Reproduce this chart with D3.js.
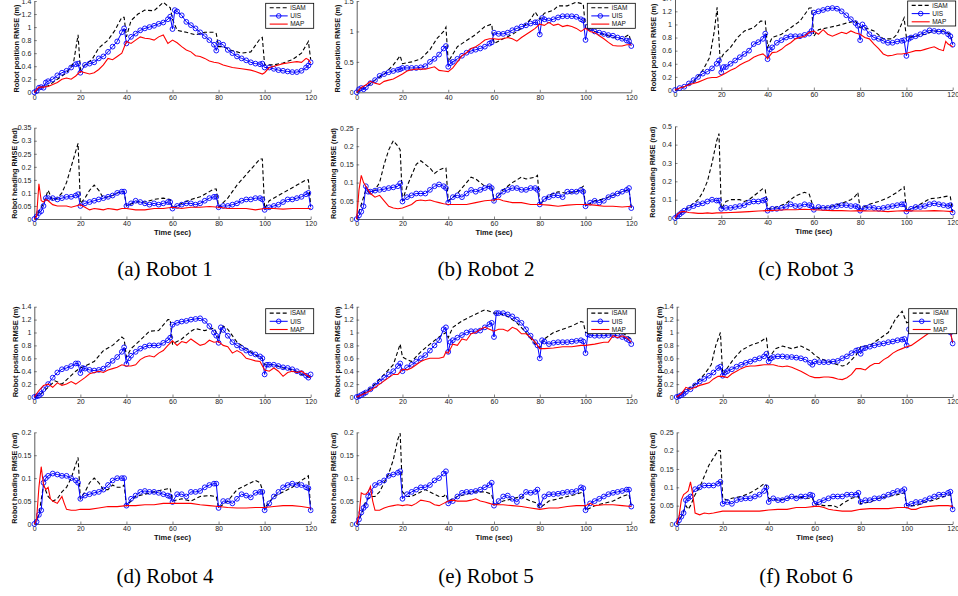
<!DOCTYPE html>
<html>
<head>
<meta charset="utf-8">
<script src="https://cdnjs.cloudflare.com/ajax/libs/d3/7.8.5/d3.min.js"></script>
<style>
  body { margin: 0; background: #fff; }
  svg { display: block; }
  .tick text { font-family: "Liberation Sans", Arial, sans-serif; font-size: 7px; fill: #222; }
</style>
</head>
<body>
<svg id="chart" width="958" height="596"></svg>
<script>
// ---- data: flat [t, value, t, value, ...] ----
var xTicks = [0, 20, 40, 60, 80, 100, 120];
var ticksPos14 = [0, 0.2, 0.4, 0.6, 0.8, 1, 1.2, 1.4];
var ticksPos15 = [0, 0.5, 1, 1.5];
var ticksHead35 = [0, 0.05, 0.1, 0.15, 0.2, 0.25, 0.3, 0.35];
var ticksHead25 = [0, 0.05, 0.1, 0.15, 0.2, 0.25];
var ticksHead50 = [0, 0.1, 0.2, 0.3, 0.4, 0.5];
var ticksHead20 = [0, 0.05, 0.1, 0.15, 0.2];
var seriesNames = ["iSAM", "UIS", "MAP"];
var captions = ["(a) Robot 1", "(b) Robot 2", "(c) Robot 3", "(d) Robot 4", "(e) Robot 5", "(f) Robot 6"];

// Robot 1
var r1PosISAM = [0,0, 3,.08, 6,.1, 10,.2, 14,.3, 17,.45, 19,.88, 20,.35, 22,.42, 25,.5, 28,.68, 32,.8, 35,.95, 38,1.15, 39,1.15, 40,.85, 42,1.1, 45,1.2, 48,1.26, 52,1.25, 56,1.38, 58,1.32, 59,1.3, 60,1.12, 62,.95, 66,.92, 70,.88, 74,.92, 78,.92, 79,.9, 80,.7, 82,.7, 85,.65, 90,.6, 94,.62, 98,.82, 99,.84, 100,.42, 104,.42, 108,.45, 112,.5, 116,.6, 119,.78, 120,.5];
var r1PosUIS = [0,0, 1,.02, 2,.07, 3,.08, 4,.07, 5,.15, 6,.17, 8,.2, 10,.26, 12,.3, 14,.33, 16,.38, 18,.43, 19,.44, 20,.3, 22,.42, 24,.44, 26,.46, 28,.52, 30,.55, 32,.62, 34,.7, 36,.78, 38,.92, 39,.98, 40,.75, 42,.85, 44,.9, 46,.95, 48,.98, 50,1.0, 52,1.02, 54,1.05, 56,1.07, 58,1.12, 59,1.16, 60,.97, 61,1.26, 62,1.24, 64,1.18, 66,1.08, 68,1.03, 70,.98, 72,.92, 74,.86, 76,.8, 78,.73, 79,.64, 80,.76, 82,.73, 84,.65, 86,.6, 88,.55, 90,.52, 92,.49, 94,.46, 96,.44, 98,.43, 99,.44, 100,.38, 102,.38, 104,.36, 106,.34, 108,.33, 110,.32, 112,.31, 114,.31, 116,.33, 118,.38, 119,.41, 120,.46];
var r1PosMAP = [0,0, 2,.08, 4,.08, 6,.09, 8,.12, 10,.15, 12,.2, 14,.22, 16,.2, 18,.25, 20,.32, 22,.3, 24,.28, 26,.3, 28,.35, 30,.42, 32,.52, 34,.5, 36,.55, 38,.6, 40,.78, 42,.75, 44,.8, 46,.85, 48,.83, 50,.82, 52,.8, 54,.85, 56,.88, 58,.75, 60,.8, 62,.76, 64,.7, 66,.65, 68,.62, 70,.56, 72,.55, 74,.52, 76,.48, 78,.46, 80,.45, 82,.42, 84,.4, 86,.38, 90,.36, 94,.34, 96,.32, 99,.28, 100,.3, 102,.38, 104,.4, 106,.42, 108,.44, 110,.45, 112,.46, 114,.47, 116,.46, 118,.52, 119,.5, 120,.45];
var r1HeadISAM = [0,0, 2,.03, 4,.06, 6,.11, 8,.07, 10,.08, 12,.1, 14,.14, 16,.2, 18,.26, 19,.29, 20,.06, 22,.08, 24,.11, 26,.13, 28,.11, 30,.08, 32,.085, 34,.09, 36,.1, 38,.105, 39,.105, 40,.05, 44,.065, 48,.065, 52,.075, 56,.08, 59,.075, 60,.04, 64,.06, 68,.075, 72,.085, 76,.105, 78,.115, 79,.115, 80,.045, 84,.08, 88,.13, 92,.17, 96,.21, 98,.23, 99,.23, 100,.04, 102,.07, 106,.09, 110,.11, 114,.13, 118,.15, 119,.15, 120,.05];
var r1HeadUIS = [0,0, 1,.01, 2,.023, 3,.03, 4,.05, 5,.08, 6,.08, 8,.08, 10,.075, 12,.08, 14,.085, 16,.085, 18,.09, 19,.095, 20,.05, 22,.06, 24,.065, 26,.07, 28,.075, 30,.08, 32,.085, 34,.09, 36,.1, 38,.105, 39,.105, 40,.05, 42,.06, 44,.07, 46,.065, 48,.06, 50,.055, 52,.06, 54,.055, 56,.06, 58,.065, 59,.065, 60,.04, 62,.05, 64,.055, 66,.06, 68,.06, 70,.055, 72,.06, 74,.07, 76,.08, 78,.085, 79,.085, 80,.045, 82,.05, 84,.05, 86,.055, 88,.06, 90,.07, 92,.075, 94,.075, 96,.08, 98,.08, 99,.075, 100,.035, 102,.045, 104,.05, 106,.055, 108,.065, 110,.075, 112,.075, 114,.08, 116,.085, 118,.095, 119,.1, 120,.045];
var r1HeadMAP = [0,0, 1,.01, 2,.135, 3,.07, 4,.065, 5,.075, 6,.07, 8,.055, 10,.05, 12,.05, 14,.05, 16,.045, 18,.05, 20,.055, 22,.045, 24,.035, 26,.04, 28,.038, 30,.035, 32,.04, 34,.038, 36,.035, 38,.04, 40,.04, 44,.035, 48,.035, 52,.04, 56,.04, 60,.045, 64,.04, 68,.045, 72,.045, 76,.048, 80,.045, 84,.04, 88,.04, 92,.04, 96,.035, 100,.04, 104,.04, 108,.038, 112,.04, 116,.04, 120,.04];

// Robot 2
var r2PosISAM = [0,0, 4,.08, 8,.2, 12,.3, 16,.45, 19,.6, 20,.47, 24,.5, 28,.55, 32,.7, 35,.88, 38,1.0, 39,1.07, 40,.5, 44,.75, 48,.85, 52,.95, 56,1.08, 59,1.12, 60,.8, 64,.88, 68,.95, 72,1.05, 76,1.2, 78,1.32, 80,1.2, 82,1.3, 86,1.35, 88,1.42, 92,1.42, 96,1.48, 99,1.45, 100,1.05, 104,1.0, 108,.95, 112,.9, 116,.88, 119,.95, 120,.8];
var r2PosUIS = [0,0, 1,.05, 2,.07, 3,.05, 4,.08, 6,.15, 8,.2, 10,.27, 12,.3, 14,.33, 16,.35, 18,.37, 19,.38, 20,.4, 22,.4, 24,.4, 26,.4, 28,.41, 30,.43, 32,.5, 34,.55, 36,.62, 38,.72, 39,.76, 40,.42, 41,.48, 42,.5, 44,.55, 46,.6, 48,.65, 50,.68, 52,.7, 54,.72, 56,.75, 58,.8, 59,.82, 60,.98, 62,.96, 64,.96, 66,.98, 68,1.02, 70,1.05, 72,1.08, 74,1.1, 76,1.13, 78,1.15, 79,1.15, 80,.95, 81,1.22, 82,1.2, 84,1.18, 86,1.2, 88,1.23, 90,1.25, 92,1.25, 94,1.25, 96,1.24, 98,1.2, 99,1.18, 100,.86, 101,1.08, 102,1.05, 104,1.0, 106,.98, 108,.96, 110,.94, 112,.93, 114,.9, 116,.88, 118,.85, 119,.84, 120,.76];
var r2PosMAP = [0,0, 2,.08, 4,.12, 6,.18, 8,.15, 10,.13, 12,.18, 14,.2, 16,.22, 18,.26, 20,.3, 22,.35, 24,.37, 26,.38, 28,.38, 30,.38, 32,.4, 34,.42, 36,.36, 38,.35, 40,.34, 42,.4, 44,.5, 46,.6, 48,.65, 50,.72, 52,.75, 54,.8, 56,.86, 58,.88, 60,.88, 62,.87, 64,.88, 66,.9, 68,.88, 70,.84, 72,.9, 74,.95, 76,1.0, 78,1.05, 80,1.12, 82,1.1, 84,1.15, 86,1.1, 88,1.12, 90,1.08, 92,1.1, 94,1.08, 96,1.05, 98,1.0, 100,1.05, 102,1.0, 104,.98, 106,.93, 108,.88, 110,.82, 112,.77, 114,.76, 116,.76, 118,.78, 120,.78];
var r2HeadISAM = [0,0, 2,.04, 4,.08, 6,.07, 8,.08, 10,.1, 12,.15, 14,.19, 16,.215, 18,.2, 19,.19, 20,.05, 22,.09, 24,.12, 26,.15, 28,.16, 30,.15, 32,.14, 34,.125, 36,.135, 38,.14, 39,.14, 40,.05, 44,.07, 48,.1, 50,.115, 52,.11, 56,.09, 59,.09, 60,.05, 64,.08, 68,.1, 72,.115, 74,.11, 78,.115, 79,.12, 80,.04, 84,.065, 86,.07, 88,.075, 92,.07, 96,.075, 99,.09, 100,.035, 104,.05, 108,.055, 112,.065, 116,.075, 119,.08, 120,.03];
var r2HeadUIS = [0,0, 1,.01, 2,.02, 3,.035, 4,.09, 5,.075, 6,.075, 8,.078, 10,.08, 12,.082, 14,.085, 16,.087, 18,.09, 19,.098, 20,.048, 22,.06, 24,.065, 26,.07, 28,.07, 30,.07, 32,.08, 34,.09, 36,.095, 38,.09, 39,.085, 40,.045, 42,.06, 44,.065, 46,.06, 48,.07, 50,.08, 52,.075, 54,.08, 56,.085, 58,.09, 59,.085, 60,.05, 62,.065, 64,.075, 66,.08, 68,.085, 70,.085, 72,.08, 74,.08, 76,.085, 78,.085, 79,.08, 80,.04, 82,.055, 84,.06, 86,.065, 88,.065, 90,.06, 92,.075, 94,.075, 96,.075, 98,.08, 99,.075, 100,.035, 102,.045, 104,.05, 106,.045, 108,.05, 110,.06, 112,.065, 114,.07, 116,.075, 118,.08, 119,.085, 120,.03];
var r2HeadMAP = [0,0, 1,.08, 2,.12, 3,.1, 4,.09, 6,.07, 8,.06, 10,.065, 12,.05, 14,.035, 16,.03, 18,.028, 20,.03, 22,.035, 24,.04, 26,.05, 28,.052, 30,.05, 32,.052, 34,.048, 36,.045, 38,.042, 40,.04, 44,.04, 48,.04, 52,.045, 56,.05, 60,.052, 62,.055, 64,.05, 68,.045, 72,.045, 76,.04, 80,.04, 84,.038, 88,.035, 92,.038, 96,.04, 100,.04, 104,.038, 108,.035, 112,.035, 116,.033, 120,.035];

// Robot 3
var r3PosISAM = [0,0, 4,.05, 8,.12, 12,.3, 15,.5, 17,.9, 18.2,1.26, 19.5,.46, 21,.55, 24,.65, 27,.8, 30,.9, 34,.95, 37,1.05, 39,1.05, 40,.65, 42,.8, 46,.85, 50,.95, 54,1.05, 58,1.25, 59,1.25, 60,.82, 62,.92, 66,.95, 70,.98, 74,1.02, 78,1.05, 80,.95, 82,.95, 86,.9, 90,.78, 94,.78, 96,.85, 99,1.1, 100,.8, 104,.82, 108,.85, 112,.9, 116,.9, 119,.85, 120,.7];
var r3PosUIS = [0,0, 2,.03, 4,.05, 6,.1, 8,.15, 10,.2, 12,.25, 14,.28, 16,.33, 18,.4, 19,.45, 20,.27, 21,.35, 22,.35, 24,.4, 26,.45, 28,.5, 30,.55, 32,.6, 34,.7, 36,.73, 38,.78, 39,.86, 40,.47, 41,.62, 42,.65, 44,.72, 46,.76, 48,.8, 50,.82, 52,.82, 54,.82, 56,.84, 58,.86, 59,.9, 60,1.18, 62,1.2, 64,1.22, 66,1.24, 68,1.25, 70,1.24, 72,1.2, 74,1.14, 76,1.08, 78,1.02, 79,.98, 80,.76, 81,1.0, 82,.95, 84,.85, 86,.8, 88,.78, 90,.75, 92,.72, 94,.72, 96,.74, 98,.75, 99,.76, 100,.52, 101,.78, 102,.8, 104,.82, 106,.85, 108,.88, 110,.91, 112,.9, 114,.89, 116,.89, 118,.85, 119,.82, 120,.69];
var r3PosMAP = [0,0, 2,.03, 4,.05, 6,.08, 8,.1, 10,.12, 12,.15, 14,.18, 16,.19, 18,.19, 20,.22, 22,.26, 24,.3, 26,.33, 28,.38, 30,.42, 32,.45, 34,.5, 36,.53, 38,.55, 39,.52, 40,.48, 42,.57, 44,.58, 46,.62, 48,.68, 50,.72, 52,.78, 54,.8, 56,.82, 58,.88, 60,.9, 62,.85, 64,.92, 66,.85, 68,.82, 70,.85, 72,.88, 74,.86, 76,.9, 78,.87, 80,.85, 82,.8, 84,.78, 86,.7, 88,.63, 90,.55, 92,.52, 94,.53, 96,.55, 98,.55, 100,.56, 102,.58, 104,.6, 106,.6, 108,.62, 110,.64, 112,.66, 114,.62, 116,.6, 117,.74, 118,.7, 120,.66];
var r3HeadISAM = [0,0, 2,.02, 4,.04, 6,.06, 8,.08, 10,.1, 12,.14, 14,.2, 16,.3, 18,.42, 19,.46, 20,.05, 22,.09, 24,.1, 26,.1, 28,.1, 30,.09, 32,.1, 34,.12, 36,.14, 38,.16, 39,.155, 40,.05, 44,.06, 48,.08, 52,.12, 56,.14, 58,.13, 60,.05, 64,.055, 68,.065, 72,.08, 76,.1, 78,.12, 79,.14, 80,.05, 84,.075, 88,.09, 92,.11, 96,.14, 99,.17, 100,.04, 104,.06, 108,.09, 110,.105, 114,.11, 118,.12, 119,.115, 120,.03];
var r3HeadUIS = [0,0, 1,.01, 2,.02, 3,.03, 4,.04, 6,.055, 8,.065, 10,.075, 12,.08, 14,.09, 16,.1, 18,.095, 19,.095, 20,.05, 22,.055, 24,.055, 26,.06, 28,.065, 30,.07, 32,.085, 34,.09, 36,.09, 38,.095, 39,.1, 40,.04, 42,.05, 44,.05, 46,.055, 48,.06, 50,.075, 52,.065, 54,.065, 56,.075, 58,.07, 59,.065, 60,.045, 62,.06, 64,.055, 66,.055, 68,.06, 70,.065, 72,.07, 74,.07, 76,.065, 78,.065, 79,.06, 80,.04, 82,.055, 84,.06, 86,.055, 88,.05, 90,.055, 92,.06, 94,.065, 96,.07, 98,.075, 99,.075, 100,.035, 102,.05, 104,.06, 106,.06, 108,.065, 110,.075, 112,.08, 114,.075, 116,.07, 118,.065, 119,.07, 120,.03];
var r3HeadMAP = [0,0, 1,.02, 2,.03, 3,.035, 4,.035, 6,.03, 8,.028, 10,.025, 12,.025, 14,.028, 16,.025, 18,.028, 20,.028, 24,.03, 28,.032, 32,.035, 36,.038, 40,.04, 44,.042, 48,.045, 52,.045, 56,.048, 60,.045, 64,.042, 68,.04, 72,.04, 76,.038, 80,.04, 84,.038, 88,.038, 92,.035, 96,.038, 100,.04, 104,.038, 108,.038, 112,.04, 116,.038, 120,.035];

// Robot 4
var r4PosISAM = [0,0, 3,.05, 6,.15, 9,.25, 12,.2, 15,.3, 18,.4, 20,.45, 22,.48, 26,.55, 30,.72, 34,.8, 38,.93, 39,.9, 40,.62, 42,.75, 46,.88, 50,1.02, 54,1.03, 58,1.2, 59,1.2, 60,.82, 64,.9, 68,1.02, 70,1.06, 74,1.03, 78,1.07, 80,.92, 82,1.1, 84,1.05, 88,.85, 92,.75, 96,.65, 99,.6, 100,.5, 104,.5, 108,.45, 112,.42, 116,.35, 120,.3];
var r4PosUIS = [0,0, 1,.01, 2,.02, 3,.05, 4,.12, 6,.2, 8,.3, 10,.38, 12,.43, 14,.45, 16,.48, 18,.52, 19,.52, 20,.37, 21,.45, 22,.44, 24,.42, 26,.41, 28,.42, 30,.44, 32,.5, 34,.56, 36,.62, 38,.7, 39,.77, 40,.51, 41,.6, 42,.64, 44,.7, 46,.75, 48,.78, 50,.8, 52,.8, 54,.8, 56,.84, 58,.88, 59,.92, 60,1.12, 62,1.15, 64,1.17, 66,1.18, 68,1.2, 70,1.21, 72,1.22, 74,1.18, 76,1.1, 78,1.0, 79,.95, 80,.84, 81,1.08, 82,1.04, 84,.95, 86,.85, 88,.8, 90,.76, 92,.72, 94,.68, 96,.66, 98,.63, 99,.6, 100,.35, 101,.5, 102,.5, 104,.5, 106,.48, 108,.46, 110,.45, 112,.43, 114,.4, 116,.37, 118,.33, 119,.3, 120,.35];
var r4PosMAP = [0,0, 2,.1, 4,.18, 6,.2, 8,.15, 10,.22, 12,.18, 14,.2, 16,.24, 18,.2, 20,.25, 22,.3, 24,.36, 26,.38, 28,.4, 30,.38, 32,.42, 34,.44, 36,.46, 38,.5, 40,.48, 42,.48, 44,.5, 46,.58, 48,.62, 50,.64, 52,.62, 54,.68, 56,.72, 58,.8, 60,.87, 62,.8, 64,.86, 66,.84, 68,.9, 70,.85, 72,.8, 74,.82, 76,.88, 78,.85, 80,.86, 82,.8, 84,.78, 86,.68, 88,.72, 90,.68, 92,.6, 94,.58, 96,.56, 98,.55, 100,.42, 102,.4, 104,.45, 106,.4, 108,.32, 110,.38, 112,.4, 114,.38, 116,.4, 118,.35, 120,.3];
var r4HeadISAM = [0,0, 2,.02, 4,.085, 6,.06, 8,.05, 10,.055, 12,.07, 14,.08, 16,.1, 18,.13, 19,.145, 20,.055, 22,.07, 24,.09, 26,.1, 28,.09, 30,.075, 32,.075, 34,.085, 36,.08, 38,.08, 39,.085, 40,.04, 44,.06, 48,.065, 52,.07, 56,.075, 59,.078, 60,.05, 64,.055, 68,.05, 70,.055, 72,.06, 76,.062, 79,.06, 80,.035, 84,.05, 88,.075, 92,.085, 96,.095, 98,.09, 99,.075, 100,.035, 104,.06, 108,.07, 112,.08, 116,.095, 119,.105, 120,.03];
var r4HeadUIS = [0,0, 1,.005, 2,.02, 3,.03, 4,.09, 5,.1, 6,.105, 8,.11, 10,.108, 12,.105, 14,.105, 16,.1, 18,.095, 19,.09, 20,.055, 22,.062, 24,.065, 26,.068, 28,.07, 30,.075, 32,.085, 34,.095, 36,.1, 38,.1, 39,.1, 40,.04, 42,.055, 44,.062, 46,.07, 48,.072, 50,.07, 52,.07, 54,.068, 56,.065, 58,.062, 59,.06, 60,.048, 62,.065, 64,.065, 66,.06, 68,.07, 70,.07, 72,.072, 74,.08, 76,.085, 78,.088, 79,.088, 80,.035, 82,.05, 84,.05, 86,.045, 88,.055, 90,.065, 92,.062, 94,.058, 96,.068, 98,.07, 99,.07, 100,.03, 102,.045, 104,.06, 106,.07, 108,.08, 110,.085, 112,.088, 114,.085, 116,.085, 118,.08, 119,.078, 120,.03];
var r4HeadMAP = [0,0, 1,.01, 2,.08, 3,.125, 4,.085, 5,.075, 6,.08, 7,.055, 8,.05, 10,.045, 12,.06, 13,.045, 14,.032, 16,.03, 18,.03, 20,.032, 24,.032, 28,.035, 32,.038, 36,.038, 40,.04, 44,.04, 48,.042, 52,.042, 56,.045, 60,.045, 64,.045, 68,.045, 72,.042, 76,.04, 80,.038, 84,.036, 88,.035, 92,.035, 96,.036, 100,.036, 104,.038, 108,.04, 112,.04, 116,.038, 120,.035];

// Robot 5
var r5PosISAM = [0,0, 4,.08, 8,.2, 12,.35, 16,.5, 19,.82, 20,.62, 22,.58, 24,.55, 28,.7, 32,.82, 36,.93, 39,1.0, 40,.92, 42,1.08, 46,1.18, 50,1.25, 54,1.32, 56,1.35, 58,1.33, 60,1.3, 62,1.3, 66,1.25, 70,1.15, 74,1.0, 78,.82, 80,.76, 82,.9, 86,1.0, 90,1.05, 94,1.1, 98,1.17, 99,1.16, 100,1.0, 104,1.0, 108,1.05, 112,1.05, 116,1.0, 120,.9];
var r5PosUIS = [0,0, 1,.01, 2,.03, 3,.05, 4,.07, 6,.12, 8,.18, 10,.24, 12,.3, 14,.35, 16,.4, 18,.48, 19,.52, 20,.4, 22,.46, 24,.5, 26,.55, 28,.6, 30,.65, 32,.72, 34,.8, 36,.88, 38,1.05, 39,1.08, 40,.7, 41,.85, 42,.88, 44,.92, 46,.96, 48,1.0, 50,1.02, 52,1.02, 54,1.03, 56,1.08, 58,1.13, 59,1.15, 60,.93, 61,1.3, 62,1.3, 64,1.3, 66,1.28, 68,1.25, 70,1.2, 72,1.15, 74,1.05, 76,.95, 78,.85, 79,.8, 80,.6, 81,.88, 82,.86, 84,.82, 86,.84, 88,.85, 90,.85, 92,.85, 94,.86, 96,.87, 98,.88, 99,.86, 100,.68, 101,.97, 102,.96, 104,.95, 106,.95, 108,.95, 110,.96, 112,.96, 114,.95, 116,.93, 118,.9, 119,.88, 120,.82];
var r5PosMAP = [0,0, 2,.03, 4,.06, 6,.1, 8,.15, 10,.2, 12,.25, 14,.3, 16,.35, 18,.35, 20,.43, 22,.42, 24,.45, 26,.5, 28,.55, 30,.58, 32,.6, 34,.6, 36,.6, 38,.62, 39,.7, 40,.68, 42,.82, 44,.8, 46,.9, 48,.88, 50,.98, 52,1.0, 54,1.05, 56,1.08, 58,1.05, 60,1.02, 62,1.05, 64,1.05, 66,1.02, 68,1.08, 70,1.05, 72,.98, 74,.98, 76,.92, 78,.85, 80,.75, 82,.75, 86,.76, 90,.78, 94,.78, 98,.8, 100,.8, 104,.82, 108,.85, 110,.85, 112,.95, 114,.92, 116,.95, 118,.92, 120,.85];
var r5HeadISAM = [0,0, 2,.02, 4,.05, 6,.06, 8,.06, 10,.07, 12,.09, 14,.11, 16,.14, 18,.185, 19,.198, 20,.07, 22,.06, 24,.06, 26,.065, 28,.07, 30,.075, 32,.07, 34,.065, 36,.06, 38,.06, 39,.065, 40,.05, 44,.06, 48,.065, 52,.07, 56,.07, 59,.065, 60,.04, 64,.05, 68,.055, 72,.06, 76,.05, 79,.045, 80,.035, 84,.05, 88,.055, 92,.06, 96,.065, 99,.07, 100,.03, 104,.04, 108,.045, 112,.05, 116,.06, 119,.065, 120,.038];
var r5HeadUIS = [0,0, 1,.01, 2,.025, 3,.035, 4,.04, 5,.06, 6,.07, 8,.085, 10,.09, 12,.095, 14,.105, 16,.108, 18,.112, 19,.115, 20,.055, 22,.065, 24,.07, 26,.075, 28,.08, 30,.08, 32,.085, 34,.095, 36,.1, 38,.11, 39,.115, 40,.045, 42,.05, 44,.06, 46,.068, 48,.07, 50,.07, 52,.072, 54,.075, 56,.08, 58,.085, 59,.09, 60,.04, 62,.05, 64,.06, 66,.062, 68,.055, 70,.048, 72,.06, 74,.07, 76,.068, 78,.07, 79,.075, 80,.04, 82,.06, 84,.065, 86,.065, 88,.066, 90,.068, 92,.07, 94,.07, 96,.072, 98,.08, 99,.078, 100,.03, 102,.045, 104,.05, 106,.055, 108,.06, 110,.065, 112,.068, 114,.07, 116,.072, 118,.075, 119,.075, 120,.038];
var r5HeadMAP = [0,0, 1,.02, 2,.068, 3,.065, 4,.065, 5,.07, 6,.082, 7,.05, 8,.03, 10,.03, 12,.035, 14,.038, 16,.04, 18,.042, 20,.04, 22,.042, 24,.04, 26,.045, 28,.052, 30,.05, 32,.048, 34,.042, 36,.04, 38,.045, 40,.05, 42,.052, 44,.05, 46,.05, 48,.05, 50,.052, 52,.055, 54,.05, 56,.048, 58,.045, 60,.042, 64,.042, 68,.04, 72,.038, 76,.035, 80,.032, 84,.035, 88,.035, 92,.038, 96,.04, 100,.04, 102,.045, 104,.04, 108,.042, 112,.042, 116,.04, 120,.038];

// Robot 6
var r6PosISAM = [0,0, 4,.1, 8,.2, 12,.35, 15,.5, 17,.8, 19,1.0, 20,.35, 22,.45, 25,.6, 28,.72, 32,.8, 36,.85, 39,.92, 40,.6, 43,.75, 46,.79, 50,.75, 54,.79, 58,.72, 60,.65, 62,.6, 66,.55, 70,.5, 72,.48, 74,.5, 78,.65, 80,.78, 84,.8, 88,.9, 92,1.0, 95,1.2, 98,1.33, 100,1.15, 104,1.2, 110,1.25, 116,1.2, 120,1.0];
var r6PosUIS = [0,0, 1,.01, 2,.03, 3,.05, 4,.08, 6,.12, 8,.18, 10,.24, 12,.28, 14,.33, 16,.38, 18,.45, 19,.47, 20,.33, 21,.38, 22,.4, 24,.43, 26,.47, 28,.5, 30,.53, 32,.55, 34,.58, 36,.6, 38,.63, 39,.67, 40,.55, 41,.6, 42,.62, 44,.63, 46,.63, 48,.62, 50,.62, 52,.61, 54,.6, 56,.58, 58,.53, 59,.5, 60,.55, 62,.54, 64,.54, 66,.54, 68,.55, 70,.56, 72,.6, 74,.63, 76,.68, 78,.72, 79,.73, 80,.67, 81,.75, 82,.76, 84,.78, 86,.8, 88,.82, 90,.83, 92,.85, 94,.86, 96,.88, 98,.89, 99,.9, 100,.8, 101,1.05, 102,1.06, 104,1.08, 106,1.1, 108,1.12, 110,1.13, 112,1.14, 114,1.12, 116,1.1, 118,1.05, 119,1.0, 120,.83];
var r6PosMAP = [0,0, 2,.05, 4,.15, 6,.12, 8,.15, 10,.18, 12,.2, 14,.22, 16,.28, 18,.32, 20,.32, 22,.3, 24,.36, 26,.4, 28,.44, 30,.47, 32,.48, 34,.48, 36,.49, 38,.5, 40,.5, 42,.5, 44,.48, 46,.47, 48,.48, 50,.46, 52,.43, 54,.4, 56,.36, 58,.32, 60,.3, 62,.3, 64,.31, 66,.31, 68,.3, 70,.28, 72,.27, 74,.3, 76,.35, 78,.44, 80,.44, 82,.42, 84,.48, 86,.52, 88,.52, 90,.58, 92,.62, 94,.68, 96,.72, 98,.75, 100,.78, 102,.8, 104,.85, 106,.9, 108,.95, 110,1.0, 112,1.05, 116,1.1, 118,1.0, 119,1.0, 120,.85];
var r6HeadISAM = [0,0, 2,.02, 4,.05, 5,.04, 6,.05, 8,.08, 10,.1, 12,.13, 14,.16, 16,.18, 18,.2, 19,.2, 20,.07, 22,.065, 24,.07, 28,.075, 32,.085, 36,.1, 38,.11, 39,.105, 40,.07, 44,.065, 48,.07, 52,.075, 56,.07, 59,.07, 60,.055, 64,.05, 68,.05, 70,.045, 72,.055, 76,.07, 79,.075, 80,.055, 84,.06, 88,.07, 92,.075, 96,.08, 99,.085, 100,.05, 104,.05, 108,.06, 112,.065, 116,.075, 119,.08, 120,.04];
var r6HeadUIS = [0,0, 1,.01, 2,.02, 3,.03, 4,.065, 5,.07, 6,.075, 8,.095, 10,.1, 12,.105, 14,.105, 16,.105, 18,.11, 19,.115, 20,.055, 22,.06, 24,.055, 26,.065, 28,.068, 30,.07, 32,.07, 34,.075, 36,.08, 38,.09, 39,.1, 40,.06, 42,.07, 44,.065, 46,.065, 48,.07, 50,.075, 52,.07, 54,.075, 56,.075, 58,.08, 59,.078, 60,.055, 62,.06, 64,.065, 66,.07, 68,.075, 70,.075, 72,.075, 74,.08, 76,.08, 78,.08, 79,.085, 80,.06, 82,.065, 84,.065, 86,.07, 88,.07, 90,.075, 92,.08, 94,.085, 96,.09, 98,.09, 99,.095, 100,.05, 102,.055, 104,.06, 106,.06, 108,.065, 110,.07, 112,.075, 114,.08, 116,.08, 118,.085, 119,.088, 120,.04];
var r6HeadMAP = [0,0, 1,.02, 2,.065, 3,.08, 4,.085, 5,.09, 6,.115, 7,.08, 8,.03, 10,.025, 12,.03, 14,.028, 16,.03, 20,.035, 24,.035, 28,.035, 32,.035, 36,.035, 40,.038, 44,.04, 48,.04, 52,.045, 56,.045, 60,.048, 62,.048, 64,.045, 66,.04, 68,.038, 72,.035, 76,.035, 80,.04, 84,.042, 88,.042, 92,.042, 96,.045, 100,.045, 102,.04, 104,.04, 106,.045, 110,.048, 114,.05, 118,.05, 120,.048];

var panels = [
  {pos:true,  x0:34.3,  x1:310.7, y0:92.3, y1:1,     ymax:1.4,  ticks:ticksPos14,  labX:17,  labY:48.5, s:[r1PosISAM, r1PosUIS, r1PosMAP], leg:[265.7, 3.3]},
  {pos:true,  x0:356.7, x1:631.3, y0:92.3, y1:1,     ymax:1.5,  ticks:ticksPos15,  labX:338, labY:48.5, s:[r2PosISAM, r2PosUIS, r2PosMAP], leg:[587.3, 3.3]},
  {pos:true,  x0:675,   x1:952.7, y0:90,   y1:-1.8,  ymax:1.4,  ticks:ticksPos14,  labX:654, labY:47.5, s:[r3PosISAM, r3PosUIS, r3PosMAP], leg:[907.7, 1]},
  {pos:false, x0:34.3,  x1:310.7, y0:219,  y1:127.7, ymax:0.35, ticks:ticksHead35, labX:15,  s:[r1HeadISAM, r1HeadUIS, r1HeadMAP]},
  {pos:false, x0:356.7, x1:631.3, y0:219,  y1:128,   ymax:0.25, ticks:ticksHead25, labX:334, s:[r2HeadISAM, r2HeadUIS, r2HeadMAP]},
  {pos:false, x0:675,   x1:952.7, y0:218,  y1:126.3, ymax:0.5,  ticks:ticksHead50, labX:653, s:[r3HeadISAM, r3HeadUIS, r3HeadMAP]},
  {pos:true,  x0:34.3,  x1:310.7, y0:397,  y1:306.7, ymax:1.4,  ticks:ticksPos14,  labX:16,  s:[r4PosISAM, r4PosUIS, r4PosMAP], leg:[265.7, 308.7]},
  {pos:true,  x0:356.7, x1:631.3, y0:397,  y1:306.7, ymax:1.4,  ticks:ticksPos14,  labX:338, s:[r5PosISAM, r5PosUIS, r5PosMAP], leg:[587.3, 308.7]},
  {pos:true,  x0:676.7, x1:952.7, y0:397,  y1:306.7, ymax:1.4,  ticks:ticksPos14,  labX:660, s:[r6PosISAM, r6PosUIS, r6PosMAP], leg:[908.7, 308.7]},
  {pos:false, x0:34.3,  x1:310.7, y0:524,  y1:432.3, ymax:0.2,  ticks:ticksHead20, labX:15,  s:[r4HeadISAM, r4HeadUIS, r4HeadMAP]},
  {pos:false, x0:356.7, x1:631.3, y0:524,  y1:432.3, ymax:0.2,  ticks:ticksHead20, labX:334, s:[r5HeadISAM, r5HeadUIS, r5HeadMAP]},
  {pos:false, x0:676.7, x1:952.7, y0:524,  y1:432.3, ymax:0.25, ticks:ticksHead25, labX:653, s:[r6HeadISAM, r6HeadUIS, r6HeadMAP]}
];
var captionPos = [[165, 276], [486, 276], [806, 276], [165, 583], [486, 583], [806, 583]];

var colors = ["#000000", "#0000ff", "#ff0000"];
var dashes = ["4,2.5", null, null];
var widths = [1.1, 1, 1.1];

var svg = d3.select("#chart");

function pairs(a) {
  var out = [];
  for (var i = 0; i < a.length; i += 2) out.push({t: a[i], v: a[i + 1]});
  return out;
}

panels.forEach(function (p, k) {
  var x = d3.scaleLinear().domain([0, 120]).range([p.x0, p.x1]);
  var y = d3.scaleLinear().domain([0, p.ymax]).range([p.y0, p.y1]);
  var g = svg.append("g");

  g.append("clipPath").attr("id", "clip" + k)
    .append("rect")
    .attr("x", p.x0 - 3).attr("y", p.y1 - 3)
    .attr("width", p.x1 - p.x0 + 6).attr("height", p.y0 - p.y1 + 6);

  // axes, ticks pointing inward like matlab
  g.append("g")
    .attr("transform", "translate(0," + p.y0 + ")")
    .call(d3.axisBottom(x).tickValues(xTicks).tickSizeInner(-2.5).tickSizeOuter(0)
      .tickPadding(2.5).tickFormat(d3.format("~g")));
  g.append("g")
    .attr("transform", "translate(" + p.x0 + ",0)")
    .call(d3.axisLeft(y).tickValues(p.ticks).tickSizeInner(-2.5).tickSizeOuter(0)
      .tickPadding(3).tickFormat(d3.format("~g")));
  g.selectAll(".domain").attr("stroke", "#333").attr("stroke-width", 0.8);
  g.selectAll(".tick line").attr("stroke", "#333").attr("stroke-width", 0.6);

  var line = d3.line().x(function (d) { return x(d.t); }).y(function (d) { return y(d.v); });
  var plot = g.append("g").attr("clip-path", "url(#clip" + k + ")");

  p.s.forEach(function (arr, i) {
    var pts = pairs(arr);
    plot.append("path")
      .datum(pts)
      .attr("d", line)
      .attr("fill", "none")
      .attr("stroke", colors[i])
      .attr("stroke-width", widths[i])
      .attr("stroke-dasharray", dashes[i]);
    if (i === 1) {
      plot.append("g").selectAll("circle")
        .data(pts)
        .enter().append("circle")
        .attr("cx", function (d) { return x(d.t); })
        .attr("cy", function (d) { return y(d.v); })
        .attr("r", 2.4)
        .attr("fill", "none")
        .attr("stroke", colors[1])
        .attr("stroke-width", 0.9);
    }
  });

  // y label (top row nudged down so it stays inside the page)
  var my = p.labY || (p.y0 + p.y1) / 2;
  g.append("text")
    .attr("transform", "translate(" + p.labX + "," + my + ") rotate(-90)")
    .attr("text-anchor", "middle")
    .attr("dy", "0.35em")
    .attr("textLength", p.labY ? 88 : 91)
    .attr("lengthAdjust", "spacingAndGlyphs")
    .style("font-family", "'Liberation Sans', Arial, sans-serif")
    .style("font-size", "7px")
    .style("font-weight", "bold")
    .attr("fill", "#111")
    .text(p.pos ? "Robot position RMSE (m)" : "Robot heading RMSE (rad)");

  if (!p.pos) {
    g.append("text")
      .attr("x", (p.x0 + p.x1) / 2)
      .attr("y", p.y0 + 16)
      .attr("text-anchor", "middle")
      .style("font-family", "'Liberation Sans', Arial, sans-serif")
      .style("font-size", "7.5px")
      .style("font-weight", "bold")
      .attr("fill", "#111")
      .text("Time (sec)");
  }

  if (p.pos) {
    var lg = g.append("g").attr("transform", "translate(" + p.leg[0] + "," + p.leg[1] + ")");
    lg.append("rect")
      .attr("width", 48).attr("height", 25)
      .attr("fill", "#fff").attr("stroke", "#000").attr("stroke-width", 0.8);
    seriesNames.forEach(function (name, i) {
      var ry = 4.4 + i * 8.2;
      lg.append("line")
        .attr("x1", 4).attr("x2", 22).attr("y1", ry).attr("y2", ry)
        .attr("stroke", colors[i]).attr("stroke-width", widths[i])
        .attr("stroke-dasharray", dashes[i]);
      if (i === 1) {
        lg.append("circle").attr("cx", 13).attr("cy", ry).attr("r", 2.3)
          .attr("fill", "none").attr("stroke", colors[1]).attr("stroke-width", 0.9);
      }
      lg.append("text")
        .attr("x", 24.5).attr("y", ry).attr("dy", "0.35em")
        .style("font-family", "'Liberation Sans', Arial, sans-serif")
        .style("font-size", "6.5px")
        .attr("fill", "#111")
        .text(name);
    });
  }
});

// sub-figure captions
svg.append("g").selectAll("text")
  .data(captions)
  .enter().append("text")
  .attr("x", function (d, i) { return captionPos[i][0]; })
  .attr("y", function (d, i) { return captionPos[i][1]; })
  .attr("text-anchor", "middle")
  .style("font-family", "'Liberation Serif', 'Times New Roman', serif")
  .style("font-size", "21px")
  .attr("fill", "#000")
  .text(function (d) { return d; });
</script>
</body>
</html>
